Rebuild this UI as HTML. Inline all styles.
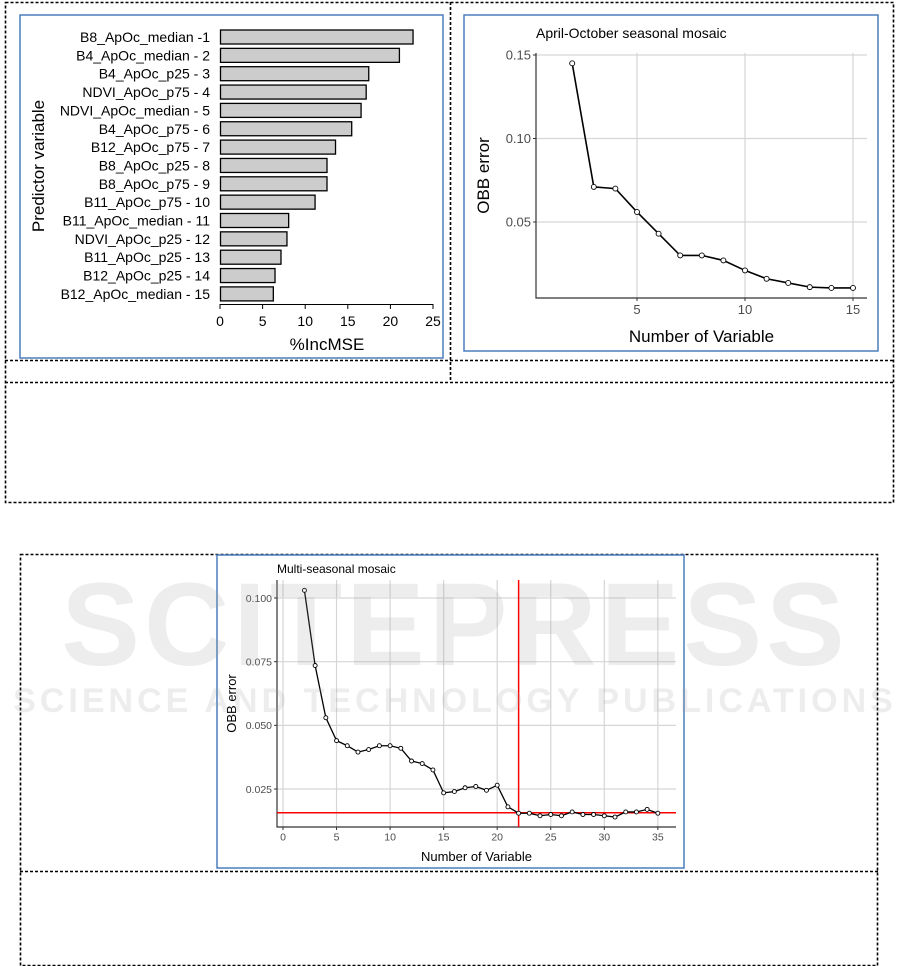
<!DOCTYPE html>
<html><head><meta charset="utf-8"><style>
html,body{margin:0;padding:0;background:#fff;}
svg{display:block;font-family:"Liberation Sans",Arial,sans-serif;}
</style></head><body>
<svg id="s" width="901" height="966" viewBox="0 0 901 966" xmlns="http://www.w3.org/2000/svg">
<!-- dashed frames -->
<g fill="none" stroke="#000" stroke-width="1.6" stroke-dasharray="3,2">
<rect x="5.5" y="2.5" width="888" height="500"/>
<line x1="450.5" y1="2" x2="450.5" y2="382"/>
<line x1="5" y1="360.5" x2="894" y2="360.5"/>
<line x1="5" y1="382.5" x2="894" y2="382.5"/>
<rect x="20.5" y="554.5" width="857" height="411"/>
<line x1="20" y1="871.5" x2="878" y2="871.5"/>
</g>
<!-- blue boxes -->
<g fill="#fff" stroke="#4a7ebb" stroke-width="1.5">
<rect x="20" y="15" width="423" height="343"/>
<rect x="464" y="15" width="414" height="336"/>
<rect x="217" y="555" width="467" height="313"/>
</g>
<g id="g1"></g><g id="g2"></g><g id="g3"></g>
<!-- watermark -->
<g fill="#9a9a9a" fill-opacity="0.18" font-weight="bold" text-anchor="middle">
<text x="455" y="665" font-size="118" letter-spacing="4">SCITEPRESS</text>
<text x="455" y="712" font-size="34" letter-spacing="4">SCIENCE AND TECHNOLOGY PUBLICATIONS</text>
</g>
</svg>
<script>
var NS="http://www.w3.org/2000/svg";
function el(p,t,a,txt){var e=document.createElementNS(NS,t);for(var k in a)e.setAttribute(k,a[k]);if(txt!=null)e.textContent=txt;p.appendChild(e);return e;}
var g1=document.getElementById("g1");
var labs=["B8_ApOc_median -1","B4_ApOc_median - 2","B4_ApOc_p25 - 3","NDVI_ApOc_p75 - 4","NDVI_ApOc_median - 5","B4_ApOc_p75 - 6","B12_ApOc_p75 - 7","B8_ApOc_p25 - 8","B8_ApOc_p75 - 9","B11_ApOc_p75 - 10","B11_ApOc_median - 11","NDVI_ApOc_p25 - 12","B11_ApOc_p25 - 13","B12_ApOc_p25 - 14","B12_ApOc_median - 15"];
var vals=[22.6,21.0,17.4,17.1,16.5,15.4,13.5,12.5,12.5,11.1,8.0,7.8,7.1,6.4,6.2];
for(var i=0;i<15;i++){var cy=37+i*18.35;
el(g1,"rect",{x:220.5,y:cy-7,width:vals[i]*8.52,height:14,fill:"#cccccc",stroke:"#000","stroke-width":1.3});
el(g1,"text",{x:210,y:cy+5,"font-size":14,"text-anchor":"end",fill:"#000"},labs[i]);}
el(g1,"line",{x1:220,y1:304.5,x2:433,y2:304.5,stroke:"#000","stroke-width":1});
for(var t=0;t<=25;t+=5){var x=220+t*8.52;el(g1,"line",{x1:x,y1:304,x2:x,y2:309,stroke:"#000"});el(g1,"text",{x:x,y:326,"font-size":14,"text-anchor":"middle"},t);}
el(g1,"text",{x:327,y:350,"font-size":17,"text-anchor":"middle"},"%IncMSE");
el(g1,"text",{x:0,y:0,"font-size":17,"text-anchor":"middle",transform:"translate(44,166) rotate(-90)"},"Predictor variable");
function lineChart(g,o){
 var X=function(n){return o.x0+(n-o.n0)*o.dx;},Y=function(v){return o.y0+(o.v0-v)*o.dy;};
 for(var i=0;i<o.xt.length;i++){var x=X(o.xt[i]);el(g,"line",{x1:x,y1:o.top,x2:x,y2:o.bot,stroke:"#d6d6d6","stroke-width":1.2});}
 for(var i=0;i<o.yt.length;i++){var y=Y(o.yt[i]);el(g,"line",{x1:o.left,y1:y,x2:o.right,y2:y,stroke:"#d6d6d6","stroke-width":1.2});}
 el(g,"polyline",{points:o.left+","+o.top+" "+o.left+","+o.bot+" "+o.right+","+o.bot,fill:"none",stroke:"#333","stroke-width":1.2});
 for(var i=0;i<o.xt.length;i++){var x=X(o.xt[i]);el(g,"line",{x1:x,y1:o.bot,x2:x,y2:o.bot+3,stroke:"#333"});el(g,"text",{x:x,y:o.bot+o.fs+3,"font-size":o.fs,"text-anchor":"middle",fill:"#4d4d4d"},o.xt[i]);}
 for(var i=0;i<o.yt.length;i++){var y=Y(o.yt[i]);el(g,"line",{x1:o.left-3,y1:y,x2:o.left,y2:y,stroke:"#333"});el(g,"text",{x:o.left-5,y:y+o.fs*0.36,"font-size":o.fs,"text-anchor":"end",fill:"#4d4d4d"},o.yl[i]);}
 if(o.red){el(g,"line",{x1:X(o.red[0]),y1:o.top,x2:X(o.red[0]),y2:o.bot,stroke:"#ff0000","stroke-width":1.5});el(g,"line",{x1:o.left,y1:Y(o.red[1]),x2:o.right,y2:Y(o.red[1]),stroke:"#ff0000","stroke-width":1.5});}
 var pts=o.d.map(function(p){return X(p[0])+","+Y(p[1]);}).join(" ");
 el(g,"polyline",{points:pts,fill:"none",stroke:"#000","stroke-width":o.lw});
 o.d.forEach(function(p){el(g,"circle",{cx:X(p[0]),cy:Y(p[1]),r:o.r,fill:"#fff",stroke:"#000","stroke-width":0.9});});
 el(g,"text",{x:o.left,y:o.tity,"font-size":o.tfs},o.title);
 el(g,"text",{x:(o.left+o.right)/2,y:o.xly,"font-size":o.lfs,"text-anchor":"middle"},"Number of Variable");
 el(g,"text",{x:0,y:0,"font-size":o.lfs,"text-anchor":"middle",transform:"translate("+o.ylx+","+((o.top+o.bot)/2)+") rotate(-90)"},"OBB error");
}
var d2=[[2,.145],[3,.071],[4,.070],[5,.056],[6,.043],[7,.030],[8,.030],[9,.027],[10,.021],[11,.016],[12,.0135],[13,.011],[14,.0105],[15,.0105]];
lineChart(document.getElementById("g2"),{x0:637,n0:5,dx:21.6,y0:55,v0:.15,dy:1670,left:536,right:867,top:53,bot:298,
 xt:[5,10,15],yt:[.15,.10,.05],yl:["0.15","0.10","0.05"],fs:13,d:d2,lw:1.6,r:2.5,
 title:"April-October seasonal mosaic",tity:38,tfs:14,xly:342,lfs:17,ylx:489});
var d3=[[2,.103],[3,.0735],[4,.053],[5,.044],[6,.042],[7,.0395],[8,.0405],[9,.042],[10,.042],[11,.041],[12,.036],[13,.035],[14,.0325],[15,.0235],[16,.024],[17,.0255],[18,.026],[19,.0245],[20,.0265],[21,.018],[22,.0155],[23,.0155],[24,.0145],[25,.015],[26,.0145],[27,.016],[28,.015],[29,.015],[30,.0145],[31,.014],[32,.016],[33,.016],[34,.017],[35,.0155]];
lineChart(document.getElementById("g3"),{x0:283,n0:0,dx:10.71,y0:598,v0:.1,dy:2547,left:277,right:676,top:580,bot:827,
 xt:[0,5,10,15,20,25,30,35],yt:[.1,.075,.05,.025],yl:["0.100","0.075","0.050","0.025"],fs:10.5,d:d3,lw:1.3,r:2,
 red:[22,.0157],title:"Multi-seasonal mosaic",tity:573,tfs:12,xly:861,lfs:13,ylx:236});
</script>
</body></html>
